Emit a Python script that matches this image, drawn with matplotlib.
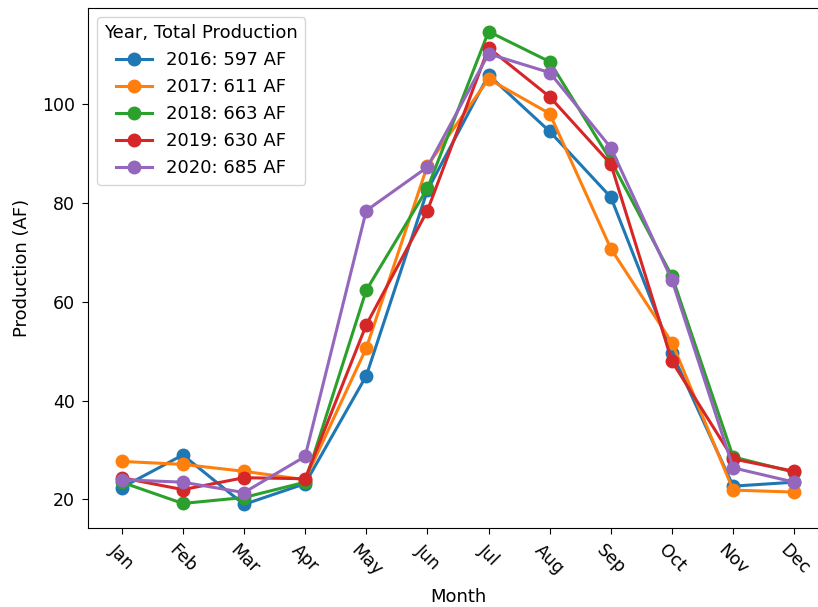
import numpy as np
import matplotlib
matplotlib.use("Agg")
import matplotlib.pyplot as plt

MONTHS = ["Jan", "Feb", "Mar", "Apr", "May", "Jun",
          "Jul", "Aug", "Sep", "Oct", "Nov", "Dec"]
YEARS = [2016, 2017, 2018, 2019, 2020]

prod_2016 = [22.4, 29.0, 19.0, 23.2, 45.0, 82.5, 105.8, 94.4, 81.1, 49.6, 22.7, 23.5]
prod_2017 = [27.7, 27.1, 25.7, 24.0, 50.6, 87.5, 105.0, 98.0, 70.7, 51.7, 21.9, 21.5]
prod_2018 = [23.5, 19.2, 20.4, 23.5, 62.3, 82.9, 114.6, 108.5, 88.5, 65.1, 28.6, 25.5]
prod_2019 = [24.4, 22.0, 24.4, 24.2, 55.3, 78.4, 111.3, 101.4, 87.8, 47.9, 28.2, 25.7]
prod_2020 = [24.0, 23.5, 21.4, 28.7, 78.4, 87.2, 110.1, 106.3, 91.1, 64.3, 26.4, 23.5]
TOTALS = [597, 611, 663, 630, 685]

series = [prod_2016, prod_2017, prod_2018, prod_2019, prod_2020]

fig = plt.figure(figsize=(8.18, 6.07), dpi=100)
# right spine falls just outside the canvas, as in the reference
ax = fig.add_axes([0.1076, 0.130, 0.9046, 0.857])

x = np.arange(len(MONTHS))
for yr, vals, tot in zip(YEARS, series, TOTALS):
    ax.plot(x, vals, marker="o", markersize=9, lw=2.2, label=f"{yr}: {tot} AF")

ax.set_xticks(x)
ax.set_xticklabels(MONTHS, rotation=-45)
ax.tick_params(axis="both", labelsize=12.5, length=4.5, pad=5)
ax.set_xlabel("Month", fontsize=13, labelpad=6)
ax.set_ylabel("Production (AF)", fontsize=13, labelpad=8)
ax.legend(title="Year, Total Production", loc="upper left",
          fontsize=13, title_fontsize=13, borderaxespad=0.5)

fig.savefig("out.png", dpi=100)
